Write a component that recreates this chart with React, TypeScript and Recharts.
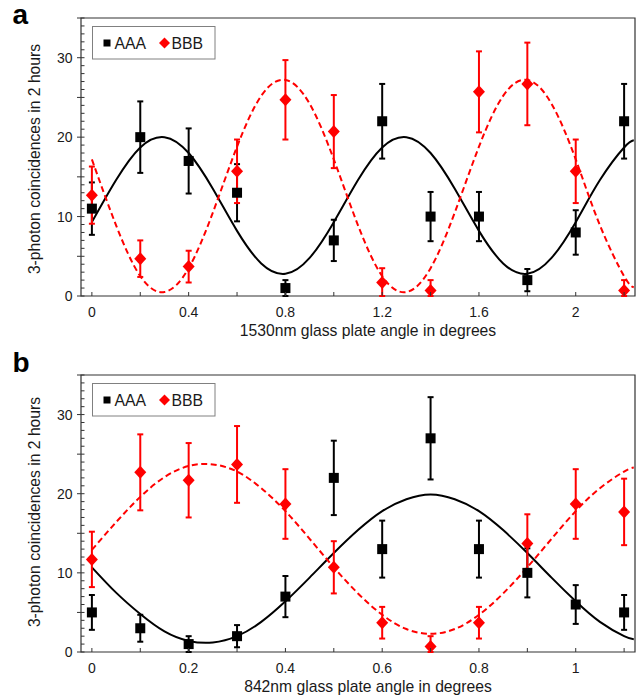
import React from "react";
import {
  ComposedChart,
  Line,
  Scatter,
  ErrorBar,
  XAxis,
  YAxis,
  ReferenceArea,
  Legend,
  Label,
} from "recharts";

const FONT = '"Liberation Sans", Arial, Helvetica, sans-serif';
const RED = "#ff0000";
const INK = "#1a1a1a";

const seriesNames = ["AAA", "BBB"];

// panel a: 1530nm plate
const anglesA = [0, 0.2, 0.4, 0.6, 0.8, 1.0, 1.2, 1.4, 1.6, 1.8, 2.0, 2.2];
const aaaA = [11, 20, 17, 13, 1, 7, 22, 10, 10, 2, 8, 22];
const aaaErrA = [3.3, 4.5, 4.1, 3.6, 1.0, 2.6, 4.7, 3.1, 3.1, 1.4, 2.8, 4.7];
const bbbA = [12.7, 4.7, 3.7, 15.7, 24.7, 20.7, 1.7, 0.7, 25.7, 26.7, 15.7, 0.7];
const bbbErrA = [3.6, 2.3, 2.0, 4.0, 5.0, 4.6, 1.8, 1.3, 5.1, 5.2, 4.0, 1.3];

const fitAnglesA = [
  0, 0.1, 0.2, 0.3, 0.4, 0.5, 0.6, 0.7, 0.8, 0.9, 1.0, 1.1, 1.2, 1.3, 1.4, 1.5,
  1.6, 1.7, 1.8, 1.9, 2.0, 2.1, 2.2, 2.24,
];
const fitAaaA = [
  9.3, 14.6, 18.7, 20.0, 18.0, 13.5, 8.2, 4.1, 2.8, 4.8, 9.3, 14.6, 18.7, 20.0,
  18.0, 13.5, 8.2, 4.1, 2.8, 4.8, 9.3, 14.6, 18.7, 19.6,
];
const fitBbbA = [
  17.2, 8.9, 2.5, 0.5, 3.5, 10.5, 18.8, 25.2, 27.2, 24.2, 17.2, 8.9, 2.5, 0.5,
  3.5, 10.5, 18.8, 25.2, 27.2, 24.2, 17.2, 8.9, 2.5, 1.1,
];

const xTicksA = [0, 0.2, 0.4, 0.6, 0.8, 1.0, 1.2, 1.4, 1.6, 1.8, 2.0, 2.2];
const xLabelsA = ["0", "", "0.4", "", "0.8", "", "1.2", "", "1.6", "", "2", ""];

// panel b: 842nm plate
const anglesB = [0, 0.1, 0.2, 0.3, 0.4, 0.5, 0.6, 0.7, 0.8, 0.9, 1.0, 1.1];
const aaaB = [5, 3, 1, 2, 7, 22, 13, 27, 13, 10, 6, 5];
const aaaErrB = [2.2, 1.7, 1.0, 1.4, 2.6, 4.7, 3.6, 5.2, 3.6, 3.1, 2.45, 2.2];
const bbbB = [11.7, 22.7, 21.7, 23.7, 18.7, 10.7, 3.7, 0.7, 3.7, 13.7, 18.7, 17.7];
const bbbErrB = [3.5, 4.8, 4.7, 4.85, 4.4, 3.3, 2.0, 1.3, 2.0, 3.7, 4.4, 4.2];

const fitAnglesB = [
  0, 0.05, 0.1, 0.15, 0.2, 0.25, 0.3, 0.35, 0.4, 0.45, 0.5, 0.55, 0.6, 0.65, 0.7,
  0.75, 0.8, 0.85, 0.9, 0.95, 1.0, 1.05, 1.1, 1.12,
];
const fitAaaB = [
  10.7, 7.5, 4.8, 2.6, 1.4, 1.2, 2.0, 3.8, 6.4, 9.4, 12.5, 15.4, 17.8, 19.3, 19.9,
  19.3, 17.8, 15.4, 12.5, 9.4, 6.4, 3.8, 2.0, 1.6,
];
const fitBbbB = [
  12.9, 16.4, 19.6, 22.1, 23.5, 23.7, 22.8, 20.7, 17.8, 14.3, 10.7, 7.4, 4.7, 2.9,
  2.3, 2.9, 4.7, 7.4, 10.7, 14.3, 17.8, 20.7, 22.8, 23.3,
];

const xTicksB = [0, 0.1, 0.2, 0.3, 0.4, 0.5, 0.6, 0.7, 0.8, 0.9, 1.0, 1.1];
const xLabelsB = ["0", "", "0.2", "", "0.4", "", "0.6", "", "0.8", "", "1", ""];

// shared y axis
const yTicks = [
  0, 1, 2, 3, 4, 5, 6, 7, 8, 9, 10, 11, 12, 13, 14, 15, 16, 17, 18, 19, 20, 21,
  22, 23, 24, 25, 26, 27, 28, 29, 30, 31, 32, 33, 34, 35,
];
const yLabelValues = [0, 10, 20, 30];
const yLabels = ["0", "10", "20", "30"];

const toPoints = (xs: number[], ys: number[], errs: number[]) =>
  xs.map((x, i) => ({ x, y: ys[i], err: [Math.min(errs[i], ys[i]), errs[i]] }));

const toCurve = (xs: number[], ys: number[]) => xs.map((x, i) => ({ x, y: ys[i] }));

const SquareDot = (props: any) => {
  const { cx, cy } = props;
  if (cx == null || cy == null) return null;
  return <rect x={cx - 5} y={cy - 5} width={10} height={10} fill="#000" />;
};

const DiamondDot = (props: any) => {
  const { cx, cy } = props;
  if (cx == null || cy == null) return null;
  return (
    <polygon
      points={`${cx},${cy - 6.5} ${cx + 6},${cy} ${cx},${cy + 6.5} ${cx - 6},${cy}`}
      fill={RED}
    />
  );
};

const YTick = (props: any) => {
  const { x, y, payload } = props;
  const v = payload.value;
  const li = yLabelValues.indexOf(v);
  return (
    <g>
      <line x1={x} x2={x + 3.5} y1={y} y2={y} stroke="#333" strokeWidth={1} />
      {v % 5 === 0 && <line x1={x - 4} x2={x} y1={y} y2={y} stroke="#333" strokeWidth={1} />}
      {li >= 0 && (
        <text x={x - 8.5} y={y + 5} textAnchor="end" fontSize={14} fill={INK} fontFamily={FONT}>
          {yLabels[li]}
        </text>
      )}
    </g>
  );
};

const makeXTick = (ticks: number[], labels: string[], dy: number) => (props: any) => {
  const { x, y, payload } = props;
  const label = labels[ticks.indexOf(payload.value)];
  return (
    <g>
      <line x1={x} x2={x} y1={y} y2={y - 4} stroke="#333" strokeWidth={1} />
      {label && (
        <text x={x} y={y + dy} textAnchor="middle" fontSize={14} fill={INK} fontFamily={FONT}>
          {label}
        </text>
      )}
    </g>
  );
};

const LegendBox = () => (
  <svg width={124} height={34} style={{ display: "block" }}>
    <rect x={0.5} y={0.5} width={122.5} height={32.5} fill="#fff" stroke="#808080" />
    <rect x={11.5} y={13.5} width={7} height={7} fill="#000" />
    <text x={22.5} y={22.5} fontSize={15.8} fill={INK} fontFamily={FONT}>
      {seriesNames[0]}
    </text>
    <polygon points="72.5,11.5 78,17 72.5,22.5 67,17" fill={RED} />
    <text x={79.5} y={22.5} fontSize={15.8} fill={INK} fontFamily={FONT}>
      {seriesNames[1]}
    </text>
  </svg>
);

interface PanelProps {
  letter: string;
  top: number;
  height: number;
  marginTop: number;
  marginBottom: number;
  xDomain: [number, number];
  xTicks: number[];
  xLabels: string[];
  tickDy: number;
  xTitle: string;
  xTitleY: number;
  yTitleY: number;
  legendTop: number;
  aaa: { x: number; y: number; err: number[] }[];
  bbb: { x: number; y: number; err: number[] }[];
  fitAaa: { x: number; y: number }[];
  fitBbb: { x: number; y: number }[];
}

function Panel(p: PanelProps) {
  const XTick = makeXTick(p.xTicks, p.xLabels, p.tickDy);
  return (
    <div style={{ position: "absolute", left: 0, top: p.top }}>
      <ComposedChart
        width={641}
        height={p.height}
        margin={{ top: p.marginTop, right: 6, bottom: p.marginBottom, left: 41 }}
      >
        <XAxis
          type="number"
          dataKey="x"
          domain={p.xDomain}
          ticks={p.xTicks}
          interval={0}
          allowDataOverflow
          axisLine={false}
          tickLine={false}
          tickSize={0}
          tickMargin={0}
          height={40}
          tick={XTick}
        >
          <Label
            content={() => (
              <text x={368} y={p.xTitleY} textAnchor="middle" fontSize={15.7} fill={INK} fontFamily={FONT}>
                {p.xTitle}
              </text>
            )}
          />
        </XAxis>
        <YAxis
          type="number"
          dataKey="y"
          domain={[0, 35]}
          ticks={yTicks}
          interval={0}
          allowDataOverflow
          axisLine={false}
          tickLine={false}
          tickSize={0}
          tickMargin={0}
          width={40}
          tick={YTick}
        >
          <Label
            content={() => (
              <text
                x={40}
                y={p.yTitleY}
                transform={`rotate(-90 40 ${p.yTitleY})`}
                textAnchor="middle"
                fontSize={15.7}
                fill={INK}
                fontFamily={FONT}
              >
                3-photon coincidences in 2 hours
              </text>
            )}
          />
        </YAxis>
        <ReferenceArea
          x1={p.xDomain[0]}
          x2={p.xDomain[1]}
          y1={0}
          y2={35}
          fill="none"
          stroke="#333"
          strokeWidth={1.2}
        />
        <Line
          data={p.fitAaa}
          dataKey="y"
          type="natural"
          stroke="#000"
          strokeWidth={2}
          dot={false}
          activeDot={false}
          isAnimationActive={false}
        />
        <Line
          data={p.fitBbb}
          dataKey="y"
          type="natural"
          stroke={RED}
          strokeWidth={2}
          strokeDasharray="6 3.5"
          dot={false}
          activeDot={false}
          isAnimationActive={false}
        />
        <Scatter name={seriesNames[0]} data={p.aaa} shape={SquareDot} isAnimationActive={false}>
          <ErrorBar dataKey="err" direction="y" width={3} strokeWidth={2} stroke="#000" />
        </Scatter>
        <Scatter name={seriesNames[1]} data={p.bbb} shape={DiamondDot} isAnimationActive={false}>
          <ErrorBar dataKey="err" direction="y" width={3} strokeWidth={2} stroke={RED} />
        </Scatter>
        <Legend
          layout="horizontal"
          verticalAlign="middle"
          align="center"
          content={() => <LegendBox />}
          wrapperStyle={{ left: 92, top: p.legendTop, width: 124, height: 34 }}
        />
      </ComposedChart>
      <div
        style={{
          position: "absolute",
          left: 12.5,
          top: 0,
          fontSize: 28,
          lineHeight: "30px",
          fontWeight: "bold",
          fontFamily: FONT,
          color: "#000",
        }}
      >
        {p.letter}
      </div>
    </div>
  );
}

export default function App() {
  return (
    <div
      style={{
        position: "absolute",
        left: 0,
        top: 0,
        width: 641,
        height: 698,
        background: "#fff",
        fontFamily: FONT,
      }}
    >
      <Panel
        letter="a"
        top={0}
        height={348}
        marginTop={18}
        marginBottom={12}
        xDomain={[-0.045, 2.245]}
        xTicks={xTicksA}
        xLabels={xLabelsA}
        tickDy={21}
        xTitle="1530nm glass plate angle in degrees"
        xTitleY={336}
        yTitleY={159}
        legendTop={26}
        aaa={toPoints(anglesA, aaaA, aaaErrA)}
        bbb={toPoints(anglesA, bbbA, bbbErrA)}
        fitAaa={toCurve(fitAnglesA, fitAaaA)}
        fitBbb={toCurve(fitAnglesA, fitBbbA)}
      />
      <Panel
        letter="b"
        top={348}
        height={350}
        marginTop={27}
        marginBottom={6}
        xDomain={[-0.0225, 1.1225]}
        xTicks={xTicksB}
        xLabels={xLabelsB}
        tickDy={21}
        xTitle="842nm glass plate angle in degrees"
        xTitleY={343.5}
        yTitleY={164}
        legendTop={35}
        aaa={toPoints(anglesB, aaaB, aaaErrB)}
        bbb={toPoints(anglesB, bbbB, bbbErrB)}
        fitAaa={toCurve(fitAnglesB, fitAaaB)}
        fitBbb={toCurve(fitAnglesB, fitBbbB)}
      />
    </div>
  );
}
